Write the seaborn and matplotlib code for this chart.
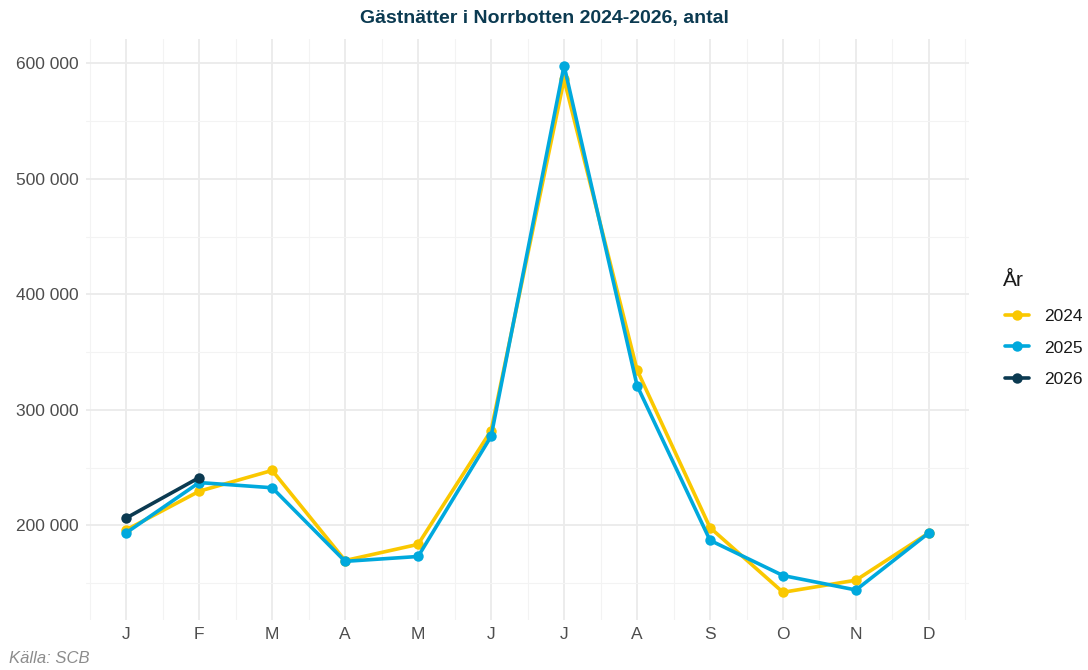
import pandas as pd
import matplotlib.pyplot as plt
import seaborn as sns
from matplotlib.ticker import FixedLocator, FuncFormatter

# Data
months = list(range(1, 13))
month_labels = ["J", "F", "M", "A", "M", "J", "J", "A", "S", "O", "N", "D"]
values_2024 = [196000, 229500, 247500, 169500, 183500, 282000, 586000, 334500, 198000, 142000, 152500, 193500]
values_2025 = [193500, 237000, 232500, 168800, 173000, 277000, 598000, 321000, 187000, 156500, 144000, 193500]
values_2026 = [206300, 241300]

years = ["2024", "2025", "2026"]
colors = ["#FAC800", "#00A9DD", "#0B3A51"]

rows = []
for year, vals in zip(years, [values_2024, values_2025, values_2026]):
    for m, v in zip(months, vals):
        rows.append({"month": m, "value": v, "year": year})
df = pd.DataFrame(rows)

sns.set_style("white")
plt.rcParams["font.family"] = ["Liberation Sans", "DejaVu Sans"]

fig = plt.figure(figsize=(10.88, 6.7), dpi=100)
ax = fig.add_axes([0.0791, 0.0746, 0.8116, 0.8672])

# gridlines (ggplot minimal style)
ax.set_axisbelow(True)
ax.xaxis.set_major_locator(FixedLocator(months))
ax.xaxis.set_minor_locator(FixedLocator([m + 0.5 for m in range(0, 13)]))
ax.yaxis.set_major_locator(FixedLocator([200000, 300000, 400000, 500000, 600000]))
ax.yaxis.set_minor_locator(FixedLocator([150000, 250000, 350000, 450000, 550000]))
ax.grid(which="major", color="#EBEBEB", linewidth=1.3)
ax.grid(which="minor", color="#F3F3F3", linewidth=0.8)

sns.lineplot(data=df, x="month", y="value", hue="year", palette=colors,
             marker="o", markersize=7.5, markeredgewidth=0, linewidth=2.6,
             ax=ax, legend=True)

ax.set_xlim(0.45, 12.55)
ax.set_ylim(118000, 621000)
ax.set_xticklabels(month_labels)
ax.yaxis.set_major_formatter(FuncFormatter(lambda v, p: f"{int(v):,}".replace(",", " ")))
ax.tick_params(axis="both", which="both", length=0, labelsize=12.5, labelcolor="#4D4D4D", pad=5)
ax.set_xlabel("")
ax.set_ylabel("")
for s in ax.spines.values():
    s.set_visible(False)

# legend outside on the right, title placed separately
handles, labels = ax.get_legend_handles_labels()
ax.get_legend().remove()
leg = fig.legend(handles, labels, loc="center left",
                 bbox_to_anchor=(0.9094, 0.4806), frameon=False,
                 fontsize=12.5, handlelength=1.4,
                 labelspacing=0.95, handletextpad=0.85)
for t in leg.get_texts():
    t.set_color("#1A1A1A")
fig.text(1003 / 1088, 1 - 280 / 670, "År", fontsize=15, color="#1A1A1A",
         ha="left", va="center")

fig.suptitle("Gästnätter i Norrbotten 2024-2026, antal", x=0.5, y=0.985,
             fontsize=14, fontweight="bold", color="#0B3A51")
fig.text(0.008, 0.01, "Källa: SCB", fontsize=12, style="italic", color="#8C8C8C")

plt.savefig("out.png", dpi=100)
